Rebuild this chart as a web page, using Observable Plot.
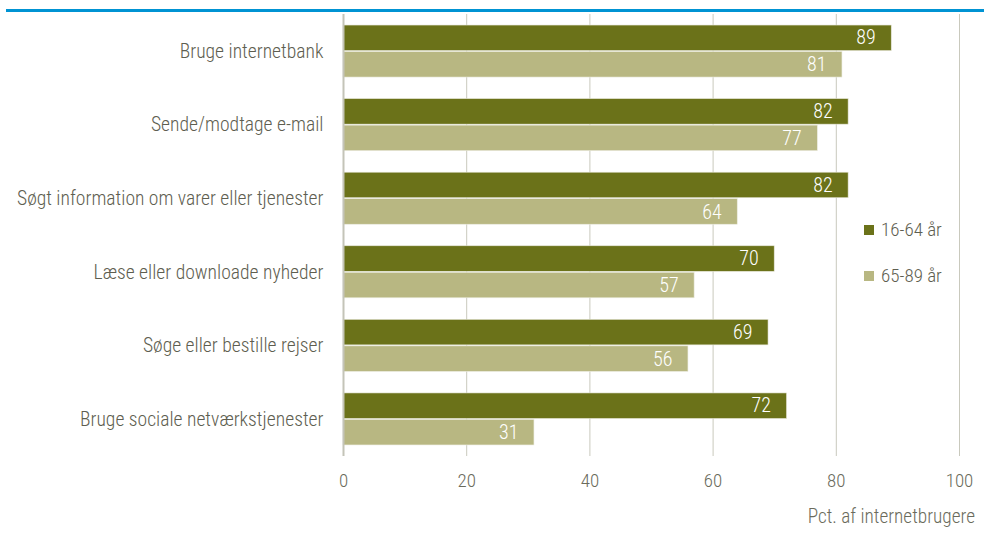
<!DOCTYPE html>
<html>
<head>
<meta charset="utf-8">
<script src="https://cdn.jsdelivr.net/npm/d3@7"></script>
<script src="https://cdn.jsdelivr.net/npm/@observablehq/plot@0.6"></script>
<style>
  html, body { margin: 0; padding: 0; background: #fff; }
  #wrap { position: relative; width: 984px; height: 543px; overflow: hidden;
          font-family: "Roboto Condensed", "Liberation Sans", sans-serif; font-weight: 300; }
  #topline { position: absolute; left: 6px; right: 0; top: 9px; height: 3px; background: #0093d3; }
  #chart { position: absolute; left: 0; top: 0; }
  .leg { position: absolute; font-size: 19px; color: #5e5e50; display: flex; align-items: center; }
  .leg span.sw { display: inline-block; width: 10px; height: 10px; margin-right: 7px; }
  #xtitle { position: absolute; right: 9px; top: 505px; font-size: 19.3px; color: #6b6b5c; }
</style>
</head>
<body>
<div id="wrap">
  <div id="chart"></div>
  <div id="topline"></div>
  <div class="leg" style="left:864px; top:218px;"><span class="sw" style="background:#6b7219"></span>16-64 år</div>
  <div class="leg" style="left:864px; top:264px;"><span class="sw" style="background:#b8b782"></span>65-89 år</div>
  <div id="xtitle">Pct. af internetbrugere</div>
</div>
<script>
const categories = [
  "Bruge internetbank",
  "Sende/modtage e-mail",
  "Søgt information om varer eller tjenester",
  "Læse eller downloade nyheder",
  "Søge eller bestille rejser",
  "Bruge sociale netværkstjenester"
];
const seriesNames = ["16-64 år", "65-89 år"];
const young = [89, 82, 82, 70, 69, 72];
const old = [81, 77, 64, 57, 56, 31];
const xTicks = [0, 20, 40, 60, 80, 100];

const dataYoung = categories.map((c, i) => ({category: c, series: seriesNames[0], value: young[i]}));
const dataOld = categories.map((c, i) => ({category: c, series: seriesNames[1], value: old[i]}));

const font = '"Roboto Condensed", "Liberation Sans", sans-serif';

const chart = Plot.plot({
  width: 984,
  height: 543,
  marginLeft: 343,
  marginRight: 25,
  marginTop: 14,
  marginBottom: 87,
  style: { fontFamily: font, fontWeight: 300, background: "transparent" },
  x: { domain: [0, 100], ticks: xTicks, label: null, tickSize: 0, tickPadding: 15 },
  y: { domain: categories, paddingInner: 0.293, paddingOuter: 0.15, round: false, label: null, tickSize: 0, tickPadding: 20 },
  marks: [
    Plot.ruleX(xTicks.filter(d => d > 0), { stroke: "#c9c9bd", strokeWidth: 1 }),
    Plot.barX(dataYoung, { y: "category", x: "value", fill: "#6b7219", insetBottom: 26.5, stroke: "#e6e6d8", strokeWidth: 0.6 }),
    Plot.barX(dataOld, { y: "category", x: "value", fill: "#b8b782", insetTop: 26.5, stroke: "#ecece0", strokeWidth: 0.6 }),
    Plot.ruleX([0], { stroke: "#c4c4b8", strokeWidth: 2 }),
    Plot.text(dataYoung, { y: "category", x: "value", text: d => String(d.value), textAnchor: "end", dx: -16, dy: -13.5, fill: "white", fontSize: 20, fontWeight: 300 }),
    Plot.text(dataOld, { y: "category", x: "value", text: d => String(d.value), textAnchor: "end", dx: -16, dy: 13.5, fill: "white", fontSize: 20, fontWeight: 300 }),
    Plot.axisX({ ticks: xTicks, tickSize: 0, tickPadding: 17, fontSize: 19, fill: "#6b6b5c", label: null }),
    Plot.axisY({ tickSize: 0, tickPadding: 20, fontSize: 19.6, fill: "#5e5e50", label: null })
  ]
});
document.getElementById("chart").appendChild(chart);
</script>
</body>
</html>
